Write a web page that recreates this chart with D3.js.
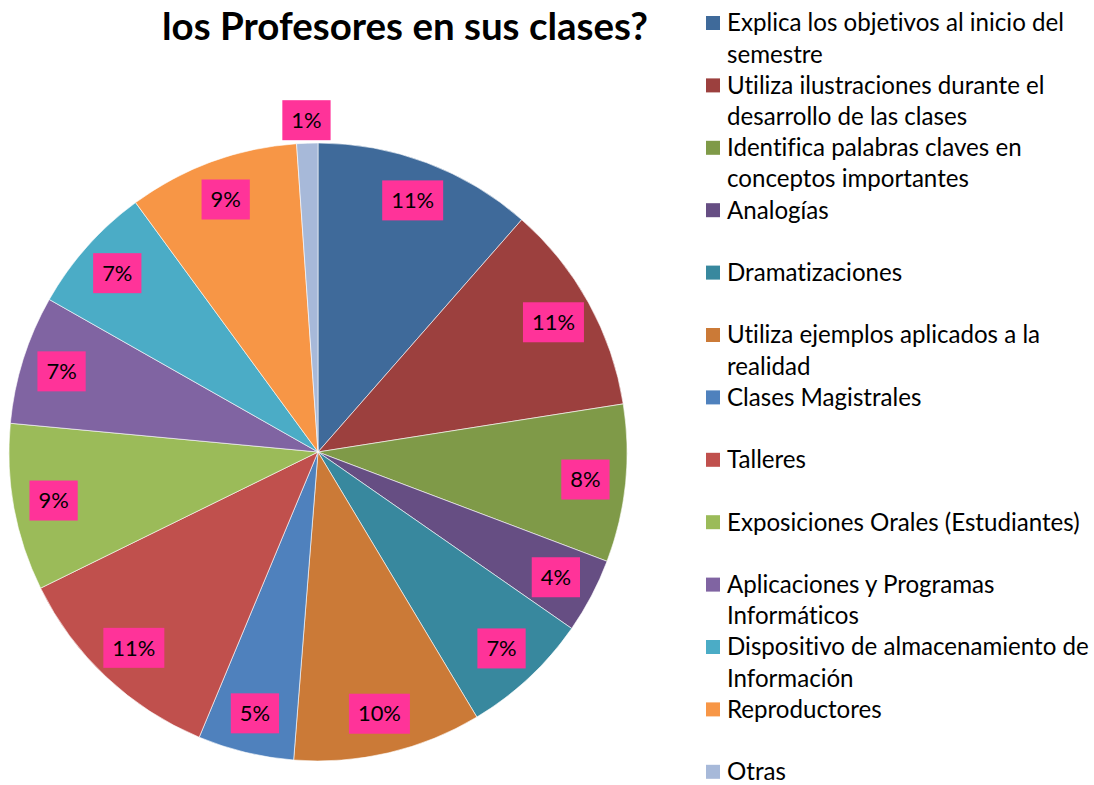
<!DOCTYPE html>
<html>
<head>
<meta charset="utf-8">
<script src="https://cdn.jsdelivr.net/npm/d3@7"></script>
<style>
  body { margin: 0; background: #fff; }
  svg { display: block; font-variant-ligatures: none; }
</style>
</head>
<body>
<div id="chart"></div>
<script>
const categories = [
  ["Explica los objetivos al inicio del", "semestre"],
  ["Utiliza ilustraciones durante el", "desarrollo de las clases"],
  ["Identifica palabras claves en", "conceptos importantes"],
  ["Analogías"],
  ["Dramatizaciones"],
  ["Utiliza ejemplos aplicados a la", "realidad"],
  ["Clases Magistrales"],
  ["Talleres"],
  ["Exposiciones Orales (Estudiantes)"],
  ["Aplicaciones y Programas", "Informáticos"],
  ["Dispositivo de almacenamiento de", "Información"],
  ["Reproductores"],
  ["Otras"]
];
const values = [11.4, 11.0, 8.2, 3.9, 6.7, 9.8, 5.0, 11.4, 8.7, 6.7, 6.7, 8.9, 1.1];
const colors = ["#3F6A9A", "#9C403E", "#7F9A48", "#664E83", "#38889E", "#CB7A37",
  "#4F81BD", "#C0504D", "#9BBB59", "#8064A2", "#4BACC6", "#F79646", "#A7B9D9"];
const titleText = "los Profesores en sus clases?";

const width = 1094, height = 785;
const cx = 318, cy = 452, radius = 309;
const font = "Lato, 'Open Sans', sans-serif";

const svg = d3.select("#chart").append("svg")
  .attr("width", width).attr("height", height)
  .style("font-family", font);

const total = d3.sum(values);
const pie = d3.pie().sort(null).value(d => d)(values);
const arc = d3.arc().innerRadius(0).outerRadius(radius);

const g = svg.append("g").attr("transform", `translate(${cx},${cy})`);

g.selectAll("path")
  .data(pie)
  .join("path")
  .attr("d", arc)
  .attr("fill", (d, i) => colors[i])
  .attr("stroke", "#fff")
  .attr("stroke-width", 0.6);

// data labels with pink boxes
const labels = g.append("g").selectAll("g")
  .data(pie)
  .join("g")
  .attr("transform", d => {
    const a = (d.startAngle + d.endAngle) / 2;
    const small = (d.endAngle - d.startAngle) < 0.1;
    const r = small ? radius + 23 : radius * 0.87;
    return `translate(${Math.sin(a) * r},${-Math.cos(a) * r})`;
  });

labels.append("rect")
  .attr("fill", "#FF3399");

const labelText = labels.append("text")
  .attr("text-anchor", "middle")
  .attr("dy", "0.35em")
  .attr("font-size", 22)
  .attr("fill", "#000")
  .text(d => Math.round(d.value / total * 100) + "%");

// size label font so "11%" is about 43px wide like the reference
const w11 = labelText.filter((d, i) => i === 0).node().getComputedTextLength();
labelText.attr("font-size", 22 * 43 / w11);

labels.each(function () {
  const t = d3.select(this).select("text");
  const w = t.node().getComputedTextLength();
  d3.select(this).select("rect")
    .attr("x", -w / 2 - 9).attr("y", -20)
    .attr("width", w + 18).attr("height", 40);
});

// title
const title = svg.append("text")
  .attr("x", 405).attr("y", 27)
  .attr("dy", "0.35em")
  .attr("text-anchor", "middle")
  .attr("font-weight", "bold")
  .attr("font-size", 35)
  .attr("fill", "#000")
  .text(titleText);
const tw = title.node().getComputedTextLength();
title.attr("font-size", 35 * 486 / tw);

// legend
const legendX = 706, legendY0 = 23, step = 62.4, lineH = 31.2;
const legend = svg.append("g");
const items = legend.selectAll("g")
  .data(categories)
  .join("g")
  .attr("transform", (d, i) => `translate(${legendX},${legendY0 + i * step})`);

items.append("rect")
  .attr("x", 0).attr("y", -7)
  .attr("width", 14).attr("height", 14)
  .attr("fill", (d, i) => colors[i]);

const texts = items.append("text")
  .attr("x", 21)
  .attr("font-size", 21)
  .attr("fill", "#000");
texts.selectAll("tspan")
  .data(d => d)
  .join("tspan")
  .attr("x", 21)
  .attr("y", (d, j) => j * lineH)
  .attr("dy", "0.35em")
  .text(d => d);

// fit legend font so the longest line spans like the reference
let maxW = 0;
texts.selectAll("tspan").each(function () {
  maxW = Math.max(maxW, this.getComputedTextLength());
});
texts.attr("font-size", 21 * 362 / maxW);
</script>
</body>
</html>
